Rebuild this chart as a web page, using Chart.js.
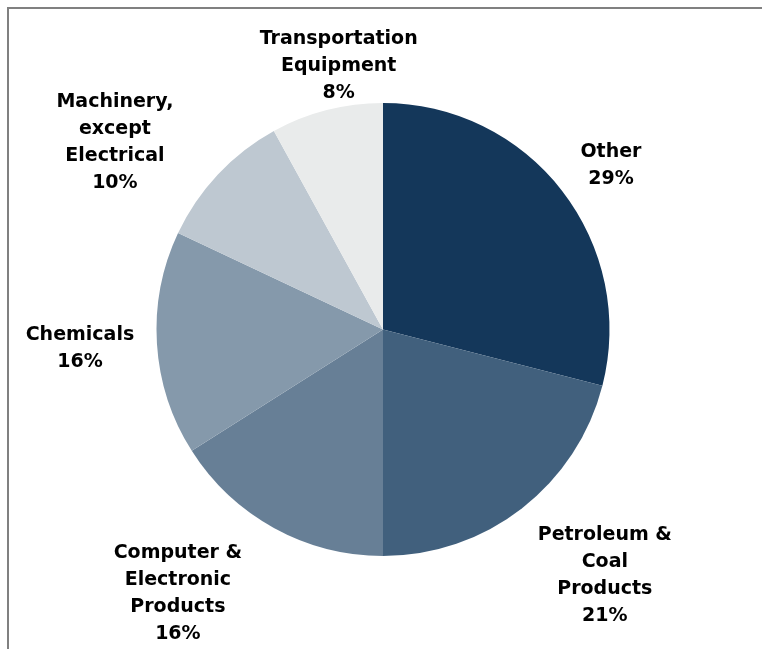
<!DOCTYPE html>
<html>
<head>
<meta charset="utf-8">
<script src="https://cdn.jsdelivr.net/npm/chart.js@4"></script>
<style>
    html, body { margin: 0; padding: 0; background: #fff; overflow: hidden; }
    #wrap { position: relative; width: 762px; height: 649px; }
    #frame {
        position: absolute; left: 7px; top: 7px;
        width: 800px; height: 700px;
        border-left: 2px solid #808080; border-top: 2px solid #808080;
    }
    #shareChart { position: absolute; left: 0; top: 0; }
</style>
</head>
<body>
<div id="wrap">
    <div id="frame"></div>
    <canvas id="shareChart" width="762" height="649"></canvas>
</div>
<script>
// ======================
// DATA
// ======================
const categories = [
    ["Other"],
    ["Petroleum &", "Coal", "Products"],
    ["Computer &", "Electronic", "Products"],
    ["Chemicals"],
    ["Machinery,", "except", "Electrical"],
    ["Transportation", "Equipment"]
];
const shares = [29, 21, 16, 16, 10, 8];
const sliceColors = ["#14375a", "#41607d", "#677f96", "#8599ab", "#bec8d1", "#e9ebeb"];

// label nudges from the outer edge of each slice (px)
const labelOffsets = [
    [49, -25], [83, 67], [-96, 66], [-77, 5], [-103, -32], [12, -44]
];

// ======================
// OUTSIDE LABELS PLUGIN
// ======================
const outsideLabels = {
    id: "outsideLabels",
    afterDatasetsDraw(chart) {
        const ctx = chart.ctx;
        const meta = chart.getDatasetMeta(0);
        const lineH = 27;
        ctx.save();
        ctx.font = "bold 19px 'DejaVu Sans', sans-serif";
        ctx.fillStyle = "#000";
        ctx.textAlign = "center";
        ctx.textBaseline = "middle";
        meta.data.forEach(function (arc, i) {
            const p = arc.getProps(["x", "y", "startAngle", "endAngle", "outerRadius"], true);
            const mid = (p.startAngle + p.endAngle) / 2;
            const cx = p.x + Math.cos(mid) * p.outerRadius + labelOffsets[i][0];
            const cy = p.y + Math.sin(mid) * p.outerRadius + labelOffsets[i][1];
            const lines = categories[i].concat([shares[i] + "%"]);
            const top = cy - (lines.length - 1) * lineH / 2;
            lines.forEach(function (t, k) {
                ctx.fillText(t, cx, top + k * lineH);
            });
        });
        ctx.restore();
    }
};

// ======================
// PIE CHART
// ======================
new Chart(document.getElementById("shareChart"), {
    type: "pie",
    data: {
        labels: categories.map(function (c) { return c.join(" "); }),
        datasets: [{
            data: shares,
            backgroundColor: sliceColors,
            borderWidth: 0
        }]
    },
    options: {
        responsive: false,
        animation: false,
        layout: { padding: { left: 156, right: 152, top: 103, bottom: 93 } },
        plugins: {
            legend: { display: false },
            tooltip: { enabled: false }
        }
    },
    plugins: [outsideLabels]
});
</script>
</body>
</html>
